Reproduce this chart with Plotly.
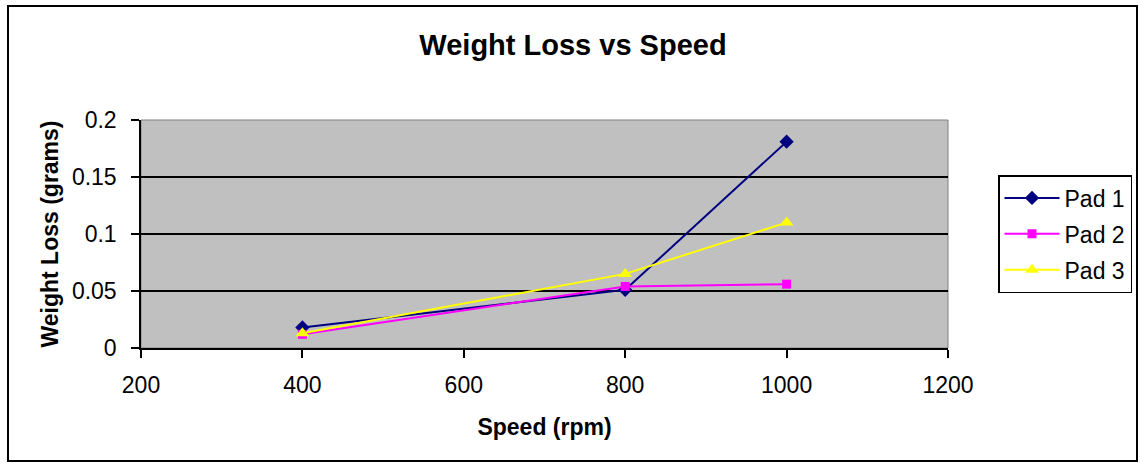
import plotly.graph_objects as go

speed = [400, 800, 1000]
pad1 = [0.018, 0.051, 0.181]
pad2 = [0.012, 0.054, 0.056]
pad3 = [0.013, 0.065, 0.110]
series_names = ["Pad 1", "Pad 2", "Pad 3"]
x_ticks = [200, 400, 600, 800, 1000, 1200]
y_ticks = [0, 0.05, 0.1, 0.15, 0.2]
y_tick_labels = ["0", "0.05", "0.1", "0.15", "0.2"]

FONT = "Arial, Liberation Sans, sans-serif"

fig = go.Figure()
styles = [
    dict(color="#000080", symbol="diamond", size=11),
    dict(color="#FF00FF", symbol="square", size=9),
    dict(color="#FFFF00", symbol="triangle-up", size=12),
]
for i, (name, ys, st) in enumerate(zip(series_names, [pad1, pad2, pad3], styles)):
    fig.add_trace(go.Scatter(
        x=speed, y=ys, name=name, mode="lines+markers", legendgroup=f"g{i}",
        line=dict(color=st["color"], width=2),
        marker=dict(symbol=st["symbol"], size=st["size"], color=st["color"],
                    line=dict(width=0)),
    ))

fig.update_layout(
    width=1140, height=463,
    margin=dict(l=141, r=192, t=120, b=115, autoexpand=False),
    paper_bgcolor="white",
    plot_bgcolor="#C0C0C0",
    font=dict(family=FONT, color="black", size=23),
    title=dict(text="<b>Weight Loss vs Speed</b>", x=573 / 1140, xref="container", xanchor="center",
               y=1 - 45 / 463, yanchor="middle",
               font=dict(size=29, family=FONT, color="black")),
    showlegend=True,
    legend=dict(x=(998 - 141) / 807, xanchor="left", y=0.5, yanchor="middle",
                bgcolor="white", bordercolor="black", borderwidth=1.5,
                font=dict(size=23, family=FONT), itemwidth=55,
                traceorder="grouped", tracegroupgap=3),
    xaxis=dict(range=[200, 1200], tickmode="array", tickvals=x_ticks,
               ticks="outside", ticklen=8, tickcolor="black", tickwidth=1.5,
               showgrid=False, zeroline=False,
               showline=True, linecolor="black", linewidth=1.5,
               tickfont=dict(size=23), ticklabelstandoff=8,
               title=dict(text="<b>Speed (rpm)</b>", font=dict(size=23), standoff=22)),
    yaxis=dict(range=[0, 0.2], tickmode="array", tickvals=y_ticks, ticktext=y_tick_labels,
               ticks="outside", ticklen=8, tickcolor="black", tickwidth=1.5,
               showgrid=True, gridcolor="black", gridwidth=1.5,
               zeroline=False,
               showline=True, linecolor="black", linewidth=1.5,
               tickfont=dict(size=23), ticklabelstandoff=10,
               title=dict(text="<b>Weight Loss (grams)</b>", font=dict(size=23), standoff=7)),
)

# plot-area border (gray)
fig.add_shape(type="rect", xref="paper", yref="paper", x0=0, x1=1, y0=0, y1=1,
              line=dict(color="#808080", width=1), layer="below")
# outer chart border
fig.add_shape(type="rect", xref="paper", yref="paper",
              x0=(8 - 141) / 807, x1=(1137 - 141) / 807,
              y0=(348 - 461) / 228, y1=(348 - 6) / 228,
              line=dict(color="black", width=2))

fig.write_html("out.html")
